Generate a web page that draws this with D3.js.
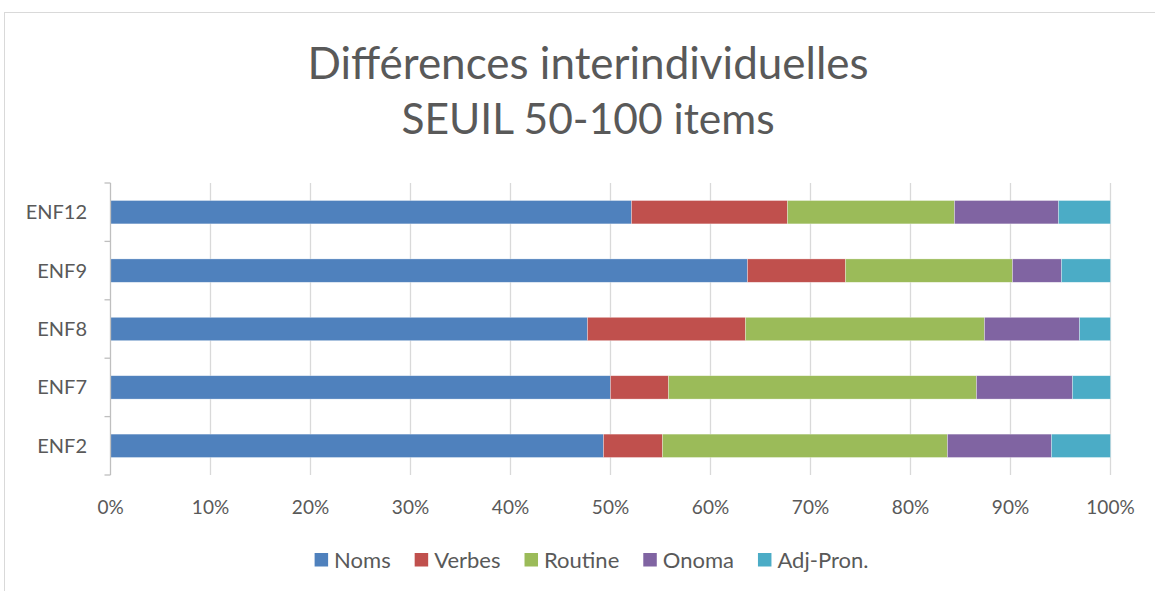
<!DOCTYPE html>
<html>
<head>
<meta charset="utf-8">
<script src="https://cdn.jsdelivr.net/npm/d3@7"></script>
<style>
  body { margin: 0; background: #fff; }
  svg { display: block; font-family: Lato, "Open Sans", sans-serif; }
</style>
</head>
<body>
<svg width="1155" height="591"></svg>
<script>
// categories, top to bottom
var enfants = ["ENF12", "ENF9", "ENF8", "ENF7", "ENF2"];
var series = ["Noms", "Verbes", "Routine", "Onoma", "Adj-Pron."];
var colors = ["#4f81bd", "#c0504d", "#9bbb59", "#8064a2", "#4bacc6"];

// shares in %, same order as enfants
var noms    = [52.1, 63.7, 47.7, 50.0, 49.3];
var verbes  = [15.6,  9.8, 15.8,  5.8,  5.9];
var routine = [16.7, 16.7, 23.9, 30.8, 28.5];
var onoma   = [10.4,  4.9,  9.5,  9.6, 10.4];
var adjPron = [ 5.2,  4.9,  3.1,  3.8,  5.9];

var pctTicks = [0, 0.1, 0.2, 0.3, 0.4, 0.5, 0.6, 0.7, 0.8, 0.9, 1];

var rows = enfants.map(function(e, i) {
    return {enf: e, "Noms": noms[i], "Verbes": verbes[i], "Routine": routine[i],
            "Onoma": onoma[i], "Adj-Pron.": adjPron[i]};
});

var svg = d3.select("svg");
var textCol = "#595959";

// chart frame
svg.append("rect")
    .attr("x", 4.5).attr("y", 12.5)
    .attr("width", 1200).attr("height", 700)
    .attr("fill", "none")
    .attr("stroke", "#d9d9d9");

// title
var title = svg.append("text")
    .attr("text-anchor", "middle")
    .attr("fill", textCol);
title.append("tspan").attr("x", 588).attr("y", 79)
    .style("font-size", "44px")
    .text("Différences interindividuelles");
title.append("tspan").attr("x", 588).attr("y", 134)
    .style("font-size", "42.5px")
    .text("SEUIL 50-100 items");

var x = d3.scaleLinear().domain([0, 1]).range([110.5, 1110.5]);
var y = d3.scaleBand().domain(enfants).range([183, 475])
    .paddingInner(0.6).paddingOuter(0.3);

// gridlines
svg.append("g")
    .selectAll("line")
    .data(pctTicks.slice(1))
    .enter().append("line")
    .attr("x1", function(d) { return x(d); })
    .attr("x2", function(d) { return x(d); })
    .attr("y1", 183).attr("y2", 475)
    .attr("stroke", "#d9d9d9")
    .attr("stroke-width", 1.3);

// stacked bars
var stack = d3.stack().keys(series).offset(d3.stackOffsetExpand);
var layers = stack(rows);

svg.append("g")
    .selectAll("g")
    .data(layers)
    .enter().append("g")
    .attr("fill", function(d, i) { return colors[i]; })
    .selectAll("rect")
    .data(function(d) { return d; })
    .enter().append("rect")
    .attr("x", function(d) { return x(d[0]); })
    .attr("width", function(d) { return x(d[1]) - x(d[0]); })
    .attr("y", function(d) { return y(d.data.enf); })
    .attr("height", y.bandwidth())
    .attr("stroke", "#ffffff")
    .attr("stroke-opacity", 0.5)
    .attr("stroke-width", 0.6);

// y axis line with ticks at category boundaries
var bounds = d3.range(enfants.length + 1).map(function(i) {
    return 183 + i * y.step();
});
var yAxisG = svg.append("g").attr("stroke", "#bfbfbf").attr("stroke-width", 1.3);
yAxisG.append("line")
    .attr("x1", 110.5).attr("x2", 110.5)
    .attr("y1", 183).attr("y2", 475);
yAxisG.selectAll(".tk")
    .data(bounds)
    .enter().append("line")
    .attr("class", "tk")
    .attr("x1", 104.5).attr("x2", 110.5)
    .attr("y1", function(d) { return d; })
    .attr("y2", function(d) { return d; });

// category labels
svg.append("g")
    .selectAll("text")
    .data(enfants)
    .enter().append("text")
    .attr("x", 87)
    .attr("y", function(d) { return y(d) + y.bandwidth() / 2; })
    .attr("dy", "0.35em")
    .attr("text-anchor", "end")
    .attr("fill", textCol)
    .style("font-size", "20px")
    .text(function(d) { return d; });

// percent labels
svg.append("g")
    .selectAll("text")
    .data(pctTicks)
    .enter().append("text")
    .attr("x", function(d) { return x(d); })
    .attr("y", 507)
    .attr("dy", "0.35em")
    .attr("text-anchor", "middle")
    .attr("fill", textCol)
    .style("font-size", "19px")
    .text(d3.format(".0%"));

// legend
var legend = svg.append("g");
var items = legend.selectAll("g")
    .data(series)
    .enter().append("g");
items.append("rect")
    .attr("width", 13.5).attr("height", 13.5)
    .attr("y", -7)
    .attr("fill", function(d, i) { return colors[i]; });
items.append("text")
    .attr("x", 19.5)
    .attr("dy", "0.35em")
    .attr("fill", textCol)
    .style("font-size", "22px")
    .text(function(d) { return d; });

var pos = 0;
var offsets = [];
items.each(function() {
    var w = d3.select(this).select("text").node().getComputedTextLength();
    offsets.push(pos);
    pos += 19.5 + w + 24;
});
var totalW = pos - 24;
var startX = 591.5 - totalW / 2;
items.attr("transform", function(d, i) {
    return "translate(" + (startX + offsets[i]) + ",560)";
});
</script>
</body>
</html>
